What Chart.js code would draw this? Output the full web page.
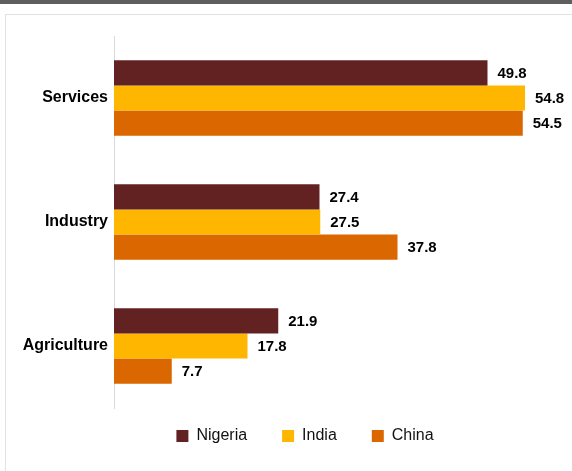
<!DOCTYPE html>
<html>
<head>
<meta charset="utf-8">
<script src="https://cdn.jsdelivr.net/npm/chart.js@4/dist/chart.umd.min.js"></script>
<style>
    html, body {
        margin: 0;
        padding: 0;
        background: #fff;
        overflow: hidden;
    }
    .topbar {
        position: absolute;
        left: 0;
        top: 0;
        width: 572px;
        height: 4px;
        background: #5f5f5f;
    }
    .card {
        position: absolute;
        left: 5px;
        top: 14px;
        width: 600px;
        height: 500px;
        border: 1px solid #e2e2e2;
    }
    #sectorChart {
        position: absolute;
        left: 0;
        top: 0;
    }
</style>
</head>
<body>
<div class="topbar"></div>
<div class="card"></div>
<canvas id="sectorChart" width="572" height="471"></canvas>

<script>
const sectors = ['Services', 'Industry', 'Agriculture'];

const nigeria = [49.8, 27.4, 21.9];
const india = [54.8, 27.5, 17.8];
const china = [54.5, 37.8, 7.7];

Chart.defaults.font.family = 'Arial, "Liberation Sans", Helvetica, sans-serif';

// value labels just past the end of each bar
const barValues = {
    id: 'barValues',
    afterDatasetsDraw(chart) {
        const ctx = chart.ctx;
        ctx.save();
        ctx.font = 'bold 15px Arial, "Liberation Sans", sans-serif';
        ctx.fillStyle = '#000';
        ctx.textAlign = 'left';
        ctx.textBaseline = 'middle';
        chart.data.datasets.forEach((ds, i) => {
            chart.getDatasetMeta(i).data.forEach((bar, j) => {
                ctx.fillText(ds.data[j].toFixed(1), bar.x + 10, bar.y + 1);
            });
        });
        ctx.restore();
    }
};

// move the legend row up under the bars and a bit to the right
const legendNudge = {
    id: 'legendNudge',
    afterLayout(chart) {
        const lg = chart.legend;
        lg.top -= 15;
        lg.bottom -= 15;
        lg.left += 23;
        lg.right += 23;
    }
};

const data = {
    labels: sectors,
    datasets: [
        { label: 'Nigeria', data: nigeria, backgroundColor: '#632222' },
        { label: 'India', data: india, backgroundColor: '#ffb600' },
        { label: 'China', data: china, backgroundColor: '#db6700' }
    ]
};

const config = {
    type: 'bar',
    data: data,
    options: {
        responsive: false,
        animation: false,
        indexAxis: 'y',
        datasets: {
            bar: {
                barPercentage: 1,
                categoryPercentage: 0.61,
                borderWidth: 0
            }
        },
        layout: {
            padding: { top: 36, right: 8, left: 0, bottom: 2 }
        },
        scales: {
            x: {
                display: false,
                min: 0,
                max: 60
            },
            y: {
                afterFit(scale) {
                    scale.width = 114;
                },
                grid: {
                    display: false,
                    drawTicks: false
                },
                border: {
                    display: true,
                    color: '#d9d9d9'
                },
                ticks: {
                    color: '#000',
                    padding: 6,
                    font: { size: 16, weight: 'bold' }
                }
            }
        },
        plugins: {
            legend: {
                position: 'bottom',
                labels: {
                    color: '#111',
                    boxWidth: 12,
                    boxHeight: 12,
                    padding: 35,
                    font: { size: 16 }
                }
            },
            tooltip: { enabled: false }
        }
    },
    plugins: [barValues, legendNudge]
};

new Chart(document.getElementById('sectorChart').getContext('2d'), config);
</script>
</body>
</html>
